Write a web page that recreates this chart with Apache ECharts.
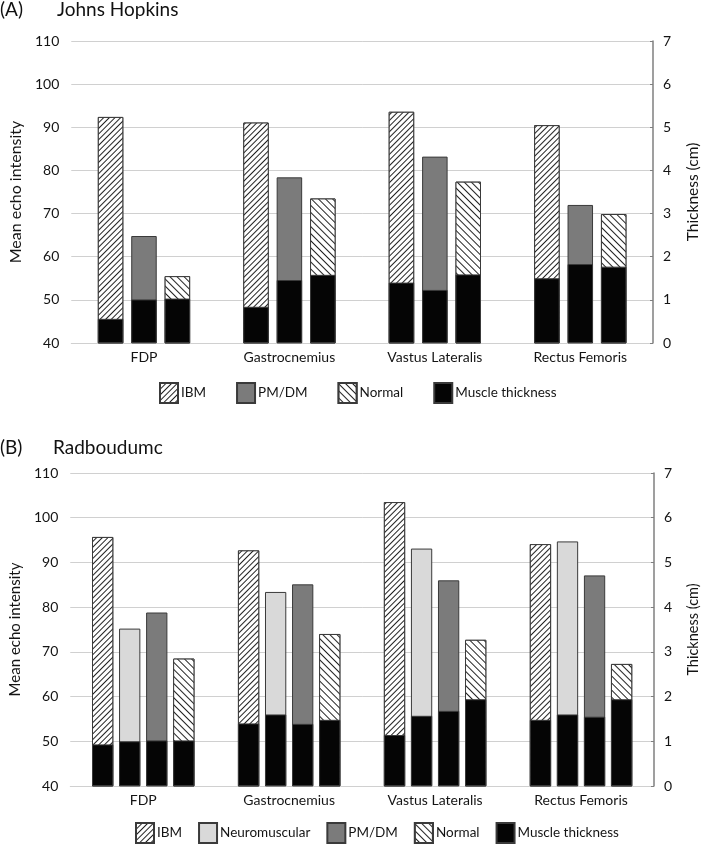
<!DOCTYPE html>
<html><head><meta charset="utf-8">
<script src="https://cdn.jsdelivr.net/npm/echarts@6/dist/echarts.min.js"></script>
<style>html,body{margin:0;padding:0;background:#fff}#c{width:709px;height:845px}</style>
</head><body><div id="c"></div>
<script>
const muscles = ['FDP', 'Gastrocnemius', 'Vastus Lateralis', 'Rectus Femoris'];
const echoTicksLeft = [40, 50, 60, 70, 80, 90, 100, 110];
const thickTicksRight = [0, 1, 2, 3, 4, 5, 6, 7];

// Panel A - Johns Hopkins: mean echo intensity
const jhIBM = [92.4, 91.1, 93.6, 90.5];
const jhPMDM = [64.8, 78.4, 83.2, 72.0];
const jhNormal = [55.5, 73.5, 77.4, 69.9];
// Panel A - muscle thickness (cm) for each bar
const jhThickIBM = [0.56, 0.84, 1.40, 1.50];
const jhThickPMDM = [1.01, 1.46, 1.23, 1.83];
const jhThickNormal = [1.03, 1.58, 1.59, 1.77];

// Panel B - Radboudumc: mean echo intensity
const rbIBM = [95.7, 92.7, 103.5, 94.1];
const rbNeuro = [75.2, 83.4, 93.1, 94.7];
const rbPMDM = [78.8, 85.1, 86.0, 87.1];
const rbNormal = [68.5, 74.0, 72.7, 67.3];
// Panel B - muscle thickness (cm)
const rbThickIBM = [0.93, 1.40, 1.14, 1.48];
const rbThickNeuro = [1.00, 1.60, 1.57, 1.60];
const rbThickPMDM = [1.02, 1.39, 1.68, 1.55];
const rbThickNormal = [1.02, 1.48, 1.94, 1.94];

const FONT = 'Lato';
const TXT = '#141414';
const BORDER = '#3a3a3a';
const hatchIBM = {symbol: 'rect', symbolSize: 1, dashArrayX: [1, 0], dashArrayY: [1, 3], rotation: -Math.PI / 4, color: '#222', backgroundColor: '#fff'};
const hatchNormal = {symbol: 'rect', symbolSize: 1, dashArrayX: [1, 0], dashArrayY: [1, 4], rotation: Math.PI / 4, color: '#222', backgroundColor: '#fff'};

const styles = {
  'IBM': {color: '#fff', borderColor: BORDER, borderWidth: 1, decal: hatchIBM},
  'Neuromuscular': {color: '#d9d9d9', borderColor: BORDER, borderWidth: 1},
  'PM/DM': {color: '#7b7b7b', borderColor: BORDER, borderWidth: 1},
  'Normal': {color: '#fff', borderColor: BORDER, borderWidth: 1, decal: hatchNormal},
  'Muscle thickness': {color: '#050505', borderColor: BORDER, borderWidth: 1}
};

function axesFor(gi, nameSize) {
  const xa = [
    {type: 'category', gridIndex: gi, data: muscles, axisLine: {show: true, lineStyle: {color: '#d0d0d0'}}, axisTick: {show: false},
     axisLabel: {color: TXT, fontFamily: FONT, fontSize: 14, margin: 7}},
    {type: 'category', gridIndex: gi, data: muscles, show: false}
  ];
  const ya = [
    {type: 'value', gridIndex: gi, min: echoTicksLeft[0], max: echoTicksLeft[echoTicksLeft.length - 1], interval: 10,
     name: 'Mean echo intensity', nameLocation: 'middle', nameGap: 43, nameTextStyle: {color: TXT, fontFamily: FONT, fontSize: nameSize},
     axisLine: {show: false}, axisTick: {show: false}, splitLine: {lineStyle: {color: '#d0d0d0', width: 1}},
     axisLabel: {color: TXT, fontFamily: FONT, fontSize: 14, margin: 12}},
    {type: 'value', gridIndex: gi, position: 'right', min: thickTicksRight[0], max: thickTicksRight[thickTicksRight.length - 1], interval: 1,
     name: 'Thickness (cm)', nameLocation: 'middle', nameGap: 32, nameRotate: 90, nameTextStyle: {color: TXT, fontFamily: FONT, fontSize: nameSize - 0.5},
     axisLine: {show: true, lineStyle: {color: '#7f7f7f', width: 1.5}}, axisTick: {show: true, length: 3, inside: true, lineStyle: {color: '#7f7f7f'}},
     splitLine: {show: false}, axisLabel: {color: TXT, fontFamily: FONT, fontSize: 14, margin: 10}}
  ];
  return {xa, ya};
}

const A = axesFor(0, 16), B = axesFor(1, 15);
const xAxis = [...A.xa, ...B.xa];
const yAxis = [...A.ya, ...B.ya];

function bar(name, data, xi, yi, bw, gap) {
  return {type: 'bar', name, data, xAxisIndex: xi, yAxisIndex: yi, barWidth: bw, barGap: gap,
    itemStyle: styles[name], emphasis: {disabled: true}, animation: false, z: name === 'Muscle thickness' ? 3 : 2};
}

const bwA = 25.5, gA = '31%';
const bwB = 21.3, gB = '27%';
const series = [
  bar('IBM', jhIBM, 0, 0, bwA, gA),
  bar('PM/DM', jhPMDM, 0, 0, bwA, gA),
  bar('Normal', jhNormal, 0, 0, bwA, gA),
  bar('Muscle thickness', jhThickIBM, 1, 1, bwA, gA),
  bar('Muscle thickness', jhThickPMDM, 1, 1, bwA, gA),
  bar('Muscle thickness', jhThickNormal, 1, 1, bwA, gA),
  bar('IBM', rbIBM, 2, 2, bwB, gB),
  bar('Neuromuscular', rbNeuro, 2, 2, bwB, gB),
  bar('PM/DM', rbPMDM, 2, 2, bwB, gB),
  bar('Normal', rbNormal, 2, 2, bwB, gB),
  bar('Muscle thickness', rbThickIBM, 3, 3, bwB, gB),
  bar('Muscle thickness', rbThickNeuro, 3, 3, bwB, gB),
  bar('Muscle thickness', rbThickPMDM, 3, 3, bwB, gB),
  bar('Muscle thickness', rbThickNormal, 3, 3, bwB, gB)
];

const titleStyle = {color: '#111', fontFamily: FONT, fontSize: 19, fontWeight: 'normal'};
const legendCommon = {padding: 0, itemWidth: 18, itemHeight: 20, textStyle: {color: TXT, fontFamily: FONT, fontSize: 13.5, padding: [0, 0, 0, -2]}, selectedMode: false, icon: 'rect'};

const chart = echarts.init(document.getElementById('c'), null, {renderer: 'canvas'});
chart.setOption({
  animation: false,
  backgroundColor: '#fff',
  title: [
    {text: '(A)', left: 0, top: 0, padding: [0, 0, 0, 0], textStyle: titleStyle},
    {text: 'Johns Hopkins', left: 57, top: 0, padding: 0, textStyle: titleStyle},
    {text: '(B)', left: 0, top: 438, padding: 0, textStyle: titleStyle},
    {text: 'Radboudumc', left: 53, top: 438, padding: 0, textStyle: titleStyle}
  ],
  grid: [
    {left: 64, width: 595, top: 41, height: 302},
    {left: 66, width: 594, top: 473, height: 313}
  ],
  legend: [
    Object.assign({}, legendCommon, {left: 159, top: 382, itemGap: 30, data: ['IBM', 'PM/DM', 'Normal', 'Muscle thickness']}),
    Object.assign({}, legendCommon, {left: 135, top: 822, itemGap: 16, data: ['IBM', 'Neuromuscular', 'PM/DM', 'Normal', 'Muscle thickness']})
  ],
  xAxis, yAxis, series
});
</script></body></html>
